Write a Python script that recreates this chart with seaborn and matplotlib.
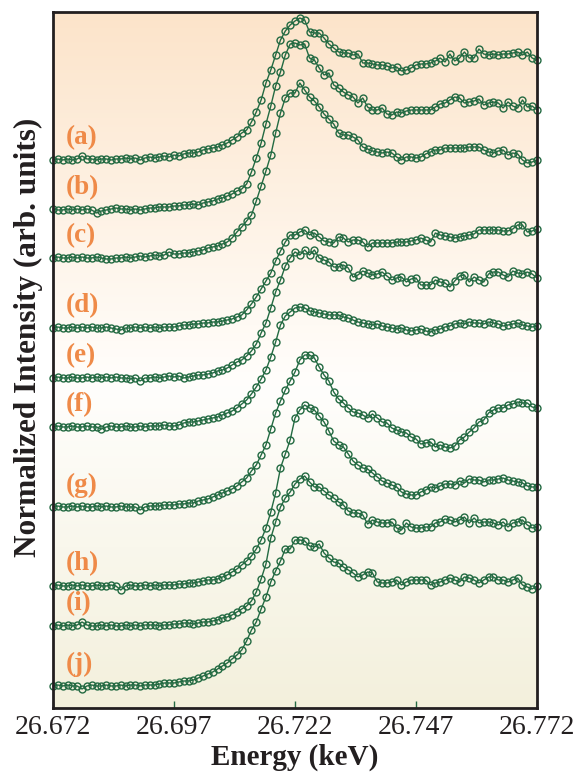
import matplotlib
matplotlib.use("Agg")
import matplotlib.pyplot as plt
import matplotlib.transforms as mtransforms
import numpy as np
import pandas as pd
import seaborn as sns
from matplotlib.colors import LinearSegmentedColormap

# energy grid (keV), 1 eV steps
energy = np.round(26.672 + 0.001 * np.arange(101), 3)

# intensities (arb. units, pre-edge = 0)
a = [0, 1, 0, 1, 0, 1, 4, 1, 1, 0, 1, 1, 0, 1, 1, 2, 1, 2, 0, 2,
     3, 2, 3, 4, 3, 5, 4, 6, 7, 7, 8, 10, 11, 12, 13, 15, 17, 20, 23, 27,
     30, 38, 48, 60, 77, 90, 105, 120, 129, 135, 139, 142, 140, 128, 127, 127, 122, 116, 112, 108,
     107, 107, 105, 106, 97, 97, 96, 95, 95, 94, 92, 93, 89, 90, 92, 95, 96, 96, 97, 99,
     102, 98, 106, 99, 102, 108, 102, 102, 111, 106, 105, 106, 105, 106, 106, 107, 108, 105, 108, 102,
     100]
b = [1, 0, 0, 1, 0, 1, 0, 1, 0, -3, -1, 0, 1, 2, 1, 1, 0, 1, 0, 1,
     2, 2, 3, 3, 3, 4, 4, 5, 5, 6, 5, 7, 8, 9, 11, 12, 14, 16, 19, 21,
     26, 38, 52, 67, 86, 104, 124, 138, 155, 166, 167, 165, 166, 152, 150, 142, 135, 137, 125, 122,
     118, 115, 113, 107, 112, 103, 100, 100, 102, 96, 95, 98, 97, 99, 100, 100, 100, 100, 100, 103,
     106, 107, 110, 113, 112, 107, 108, 109, 111, 105, 107, 108, 107, 102, 108, 104, 102, 110, 103, 104,
     100]
c = [0, 1, 0, 0, 1, 0, 1, 0, 0, 1, 0, -1, -1, 0, 0, 1, 0, 1, 2, 1,
     2, 3, 2, 3, 6, 4, 4, 5, 5, 6, 7, 8, 10, 11, 12, 14, 16, 20, 26, 31,
     37, 43, 57, 72, 87, 103, 125, 145, 160, 165, 165, 175, 168, 161, 157, 151, 144, 139, 134, 125,
     123, 123, 121, 118, 111, 109, 107, 106, 105, 106, 105, 101, 98, 101, 101, 100, 101, 104, 106, 108,
     108, 110, 110, 110, 110, 110, 111, 111, 111, 108, 106, 105, 107, 108, 103, 105, 104, 98, 95, 96,
     98]
d = [0, 1, 0, 0, 1, 0, 1, 0, 1, 0, 0, 1, 0, -1, -2, 0, 0, 1, 0, 1,
     0, 1, 0, 1, 1, 1, 2, 3, 3, 4, 4, 5, 5, 6, 6, 7, 8, 9, 11, 13,
     18, 24, 31, 39, 47, 55, 67, 77, 86, 93, 93, 96, 98, 93, 95, 91, 87, 86, 85, 91,
     90, 86, 88, 88, 86, 81, 85, 85, 85, 85, 85, 86, 86, 86, 87, 88, 90, 88, 86, 95,
     93, 92, 91, 90, 91, 92, 93, 94, 98, 98, 98, 98, 98, 97, 97, 99, 103, 103, 96, 97,
     99]
e = [0, 1, 0, 0, 1, 0, 0, 1, 0, 1, 0, 1, 0, 1, 0, 0, -1, 0, -3, 0,
     0, 1, 0, 1, 2, 1, 2, 0, 1, 2, 3, 3, 4, 5, 7, 8, 10, 13, 16, 18,
     22, 27, 34, 45, 55, 70, 86, 98, 112, 120, 126, 123, 128, 123, 128, 120, 118, 116, 111, 111,
     113, 110, 101, 103, 107, 105, 103, 104, 106, 102, 98, 100, 101, 96, 99, 100, 93, 93, 93, 98,
     96, 95, 91, 97, 102, 103, 96, 101, 98, 96, 104, 106, 106, 103, 101, 107, 105, 104, 106, 104,
     100]
f = [0, 1, 0, 0, 1, 0, 0, 1, 0, 0, -2, 0, 1, 0, 0, 1, 0, 0, 1, 0,
     1, 1, 1, 2, 1, 1, 2, 4, 5, 5, 6, 7, 8, 9, 10, 12, 14, 16, 19, 23,
     27, 33, 40, 48, 57, 70, 85, 102, 111, 115, 119, 120, 119, 116, 115, 114, 113, 112, 112, 112,
     110, 109, 107, 105, 104, 103, 102, 103, 101, 100, 99, 98, 99, 97, 96, 97, 98, 96, 95, 97,
     98, 100, 101, 103, 104, 103, 105, 104, 104, 103, 105, 104, 103, 101, 102, 103, 104, 102, 101, 100,
     101]
g = [0, 1, 0, 0, 1, 0, 1, 0, 0, 1, 0, 1, 0, 0, 1, 0, 0, 0, -3, 0,
     1, 1, 1, 2, 2, 2, 3, 3, 4, 4, 6, 7, 8, 10, 12, 14, 16, 18, 21, 25,
     29, 36, 42, 52, 62, 78, 94, 106, 117, 126, 135, 147, 152, 152, 149, 140, 132, 126, 115, 108,
     104, 99, 95, 94, 92, 89, 93, 89, 85, 84, 79, 77, 75, 74, 70, 68, 63, 64, 65, 60,
     62, 60, 59, 61, 67, 70, 75, 79, 85, 87, 94, 97, 99, 99, 102, 103, 105, 104, 104, 100,
     99]
h = [0, 1, 0, 0, 1, 0, 1, 0, 0, 1, 0, 0, 1, 0, -4, 0, 1, 0, 0, 1,
     0, 1, 0, 1, 1, 1, 2, 2, 3, 3, 4, 5, 6, 6, 7, 9, 11, 14, 17, 21,
     25, 30, 37, 46, 58, 74, 93, 118, 132, 146, 168, 176, 181, 178, 176, 170, 164, 155, 145, 141,
     139, 132, 125, 121, 118, 117, 113, 109, 105, 103, 101, 99, 94, 92, 91, 91, 94, 96, 99, 98,
     100, 102, 102, 101, 105, 103, 107, 106, 106, 104, 106, 106, 107, 108, 106, 105, 104, 103, 100, 99,
     99]
i = [0, 1, 0, 1, 0, 1, 4, 1, 0, 0, 1, 0, 1, 0, 0, 1, 0, 1, 0, 1,
     1, 1, 0, 1, 1, 2, 2, 3, 3, 2, 3, 4, 4, 5, 6, 8, 9, 11, 14, 17,
     20, 25, 34, 47, 62, 88, 104, 119, 128, 134, 142, 147, 150, 144, 139, 139, 135, 131, 128, 124,
     121, 115, 113, 113, 111, 102, 106, 104, 103, 103, 104, 98, 96, 103, 99, 98, 98, 99, 99, 103,
     104, 107, 106, 104, 106, 109, 103, 108, 103, 104, 104, 103, 101, 104, 99, 103, 104, 106, 101, 98,
     99]
j = [0, 1, 0, 1, 0, 0, -3, 0, 1, 0, 0, 1, 0, 0, 1, 0, 1, 1, 0, 1,
     1, 1, 2, 3, 3, 3, 4, 5, 5, 6, 8, 10, 12, 14, 17, 20, 23, 27, 31, 36,
     45, 56, 64, 77, 89, 104, 115, 125, 137, 137, 146, 146, 145, 140, 139, 142, 133, 128, 124, 123,
     119, 116, 113, 109, 111, 114, 113, 104, 103, 103, 104, 106, 101, 104, 106, 106, 106, 106, 101, 103,
     104, 106, 108, 106, 104, 109, 108, 106, 103, 106, 109, 109, 106, 106, 104, 106, 108, 101, 99, 97,
     100]

labels = ["(a)", "(b)", "(c)", "(d)", "(e)", "(f)", "(g)", "(h)", "(i)", "(j)"]
offsets = [548, 498, 450, 380, 330, 281, 201, 122, 82, 22]
xticks = [26.672, 26.697, 26.722, 26.747, 26.772]

green = "#236a42"
orange = "#ef8a48"
ink = "#231f20"

sns.set_theme(style="white")
plt.rcParams["font.family"] = ["Liberation Serif", "DejaVu Serif"]

fig = plt.figure(figsize=(5.78, 7.72), dpi=100)
ax = fig.add_axes([53 / 578, 1 - 708 / 772, 484 / 578, 696 / 772])

# soft vertical background gradient
bg = LinearSegmentedColormap.from_list(
    "bg", [(0.0, "#f3f0dc"), (0.46, "#fffefc"), (0.55, "#fffaf4"), (1.0, "#fce4ca")])
ax.imshow(np.linspace(0, 1, 256).reshape(-1, 1), cmap=bg, origin="lower",
          extent=[0, 1, 0, 1], transform=ax.transAxes, aspect="auto", zorder=0)

trans = mtransforms.blended_transform_factory(ax.transAxes, ax.transData)
for name, vals, off in zip(labels, [a, b, c, d, e, f, g, h, i, j], offsets):
    df = pd.DataFrame({"energy": energy, "intensity": np.array(vals) + off})
    sns.lineplot(data=df, x="energy", y="intensity", ax=ax, color=green,
                 linewidth=1.0, marker="o", markersize=5.0,
                 markerfacecolor="none", markeredgecolor=green,
                 markeredgewidth=1.0, zorder=3, clip_on=False)
    ax.text(0.027, off + 22, name, transform=trans, color=orange,
            fontsize=19.5, fontweight="bold", va="center", ha="left")

ax.set_xlim(26.672, 26.772)
ax.set_ylim(0, 696)
ax.set_xticks(xticks)
ax.set_xticklabels([f"{t:.3f}" for t in xticks])
ax.set_yticks([])
ax.tick_params(axis="x", bottom=True, direction="in", length=5, width=1,
               color=green, labelsize=20, labelcolor=ink, pad=5)
for s in ax.spines.values():
    s.set_color(ink)
    s.set_linewidth(2)
    s.set_zorder(4)

ax.set_xlabel("Energy (keV)", fontsize=21, fontweight="bold", color=ink, labelpad=3)
ax.set_ylabel("Normalized Intensity (arb. units)", fontsize=22.5,
              fontweight="bold", color=ink)
ax.yaxis.set_label_coords(-0.02, 0.532)

fig.savefig("out.png", dpi=100)
